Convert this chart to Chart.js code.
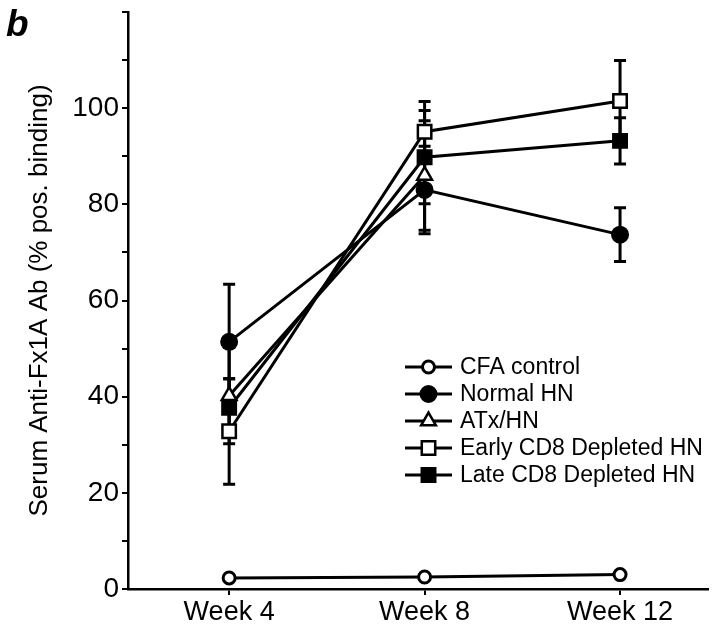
<!DOCTYPE html>
<html lang="en">
<head>
<meta charset="UTF-8"/>
<title>Serum Anti-Fx1A Ab</title>
<style>
    html, body {
        margin: 0;
        padding: 0;
        background: #fff;
        overflow: hidden;
    }
    .wrap {
        position: relative;
        width: 720px;
        height: 628px;
    }
    #panel {
        position: absolute;
        left: 6px;
        top: 3px;
        font: italic bold 37px "Liberation Sans", Arial, sans-serif;
        color: #000;
    }
</style>
</head>
<body>
<div class="wrap">
    <canvas id="chart" width="720" height="628"></canvas>
    <div id="panel">b</div>
</div>

<script src="https://cdn.jsdelivr.net/npm/chart.js"></script>
<script>
// x positions (weeks) and their labels
const weeks = [4, 8, 12];
const weekLabels = ['Week 4', 'Week 8', 'Week 12'];

// group means (% pos. binding) and error bars
const cfaControl = [2.3, 2.5, 3.0];
const normalHN = [51.4, 83, 73.7];
const normalHNErr = [12, 9.1, 5.6];
const atxHN = [40.2, 86];
const atxHNErr = [10, 11.4];
const earlyCD8 = [32.8, 95.1, 101.5];
const earlyCD8Err = [11, 6.3, 8.4];
const lateCD8 = [37.7, 89.8, 93.2];
const lateCD8Err = [6, 9.7, 4.8];

const yTickLabels = [0, 20, 40, 60, 80, 100];

const FONT = '"Liberation Sans", Arial, Helvetica, sans-serif';

function toPoints(vals) {
    return vals.map((v, i) => ({x: weeks[i], y: v}));
}

function makeSet(label, vals, errs, style, radius, filled, bw) {
    return {
        label: label,
        data: toPoints(vals),
        errors: errs,
        borderColor: '#000',
        borderWidth: 3,
        pointStyle: style,
        pointRadius: radius,
        pointHoverRadius: radius,
        pointBackgroundColor: filled ? '#000' : '#fff',
        pointBorderColor: '#000',
        pointBorderWidth: bw,
        tension: 0,
        fill: false
    };
}

const datasets = [
    makeSet('CFA control', cfaControl, null, 'circle', 6, false, 3),
    makeSet('Normal HN', normalHN, normalHNErr, 'circle', 8, true, 2),
    makeSet('ATx/HN', atxHN, atxHNErr, 'triangle', 8.5, false, 2.5),
    makeSet('Early CD8 Depleted HN', earlyCD8, earlyCD8Err, 'rect', 9.5, false, 2.5),
    makeSet('Late CD8 Depleted HN', lateCD8, lateCD8Err, 'rect', 9.5, true, 2.5)
];

// vertical error bars with caps, drawn through the scales
const errorBars = {
    id: 'errorBars',
    beforeDatasetsDraw(chart) {
        const ctx = chart.ctx;
        const xs = chart.scales.x;
        const ys = chart.scales.y;
        ctx.save();
        ctx.strokeStyle = '#000';
        ctx.lineWidth = 3;
        chart.data.datasets.forEach(ds => {
            if (!ds.errors) return;
            ds.data.forEach((p, i) => {
                const e = ds.errors[i];
                if (e == null) return;
                const px = xs.getPixelForValue(p.x);
                const top = ys.getPixelForValue(p.y + e);
                const bot = ys.getPixelForValue(p.y - e);
                ctx.beginPath();
                ctx.moveTo(px, top);
                ctx.lineTo(px, bot);
                ctx.moveTo(px - 6, top);
                ctx.lineTo(px + 6, top);
                ctx.moveTo(px - 6, bot);
                ctx.lineTo(px + 6, bot);
                ctx.stroke();
            });
        });
        ctx.restore();
    }
};

// legend drawn as line + marker + text, like the figure
const lineLegend = {
    id: 'lineLegend',
    afterDraw(chart) {
        const ctx = chart.ctx;
        const x0 = 405, x1 = 452, tx = 460;
        const rows = [367, 394, 421, 448, 475];
        ctx.save();
        ctx.font = '23px ' + FONT;
        ctx.textBaseline = 'middle';
        chart.data.datasets.forEach((ds, i) => {
            const y = rows[i];
            ctx.strokeStyle = '#000';
            ctx.lineWidth = 3;
            ctx.beginPath();
            ctx.moveTo(x0, y);
            ctx.lineTo(x1, y);
            ctx.stroke();
            ctx.fillStyle = ds.pointBackgroundColor;
            ctx.strokeStyle = '#000';
            ctx.lineWidth = ds.pointBorderWidth;
            Chart.helpers.drawPoint(ctx, {
                pointStyle: ds.pointStyle,
                radius: ds.pointRadius,
                rotation: 0,
                borderWidth: ds.pointBorderWidth
            }, (x0 + x1) / 2, y);
            ctx.fillStyle = '#000';
            ctx.fillText(ds.label, tx, y + 1);
        });
        ctx.restore();
    }
};

new Chart(document.getElementById('chart').getContext('2d'), {
    type: 'line',
    data: { datasets: datasets },
    options: {
        responsive: false,
        animation: false,
        layout: { padding: { left: 24, right: 11, top: 6, bottom: 0 } },
        plugins: {
            legend: { display: false },
            tooltip: { enabled: false }
        },
        scales: {
            x: {
                type: 'linear',
                min: 1.93,
                max: 13.8,
                afterBuildTicks: scale => { scale.ticks = weeks.map(v => ({value: v})); },
                afterFit: scale => {
                    scale.height = 39;
                    scale.paddingLeft = 0;
                    scale.paddingRight = 0;
                },
                ticks: {
                    color: '#000',
                    font: { family: FONT, size: 27 },
                    padding: 1,
                    autoSkip: false,
                    maxRotation: 0,
                    callback: v => weekLabels[weeks.indexOf(v)]
                },
                grid: { drawOnChartArea: false, color: '#000', lineWidth: 2, tickLength: 6 },
                border: { color: '#000', width: 2.5 }
            },
            y: {
                min: 0,
                max: 120,
                afterFit: scale => {
                    scale.width = 104;
                    scale.paddingTop = 0;
                    scale.paddingBottom = 0;
                },
                ticks: {
                    stepSize: 10,
                    autoSkip: false,
                    color: '#000',
                    font: { family: FONT, size: 28 },
                    padding: 3,
                    callback: v => yTickLabels.includes(v) ? String(v) : ''
                },
                grid: { drawOnChartArea: false, color: '#000', lineWidth: 2, tickLength: 6 },
                border: { color: '#000', width: 2.5 },
                title: {
                    display: true,
                    text: 'Serum Anti-Fx1A Ab (% pos. binding)',
                    color: '#000',
                    font: { family: FONT, size: 26 },
                    padding: { top: 0, bottom: 0 }
                }
            }
        }
    },
    plugins: [errorBars, lineLegend]
});
</script>
</body>
</html>
